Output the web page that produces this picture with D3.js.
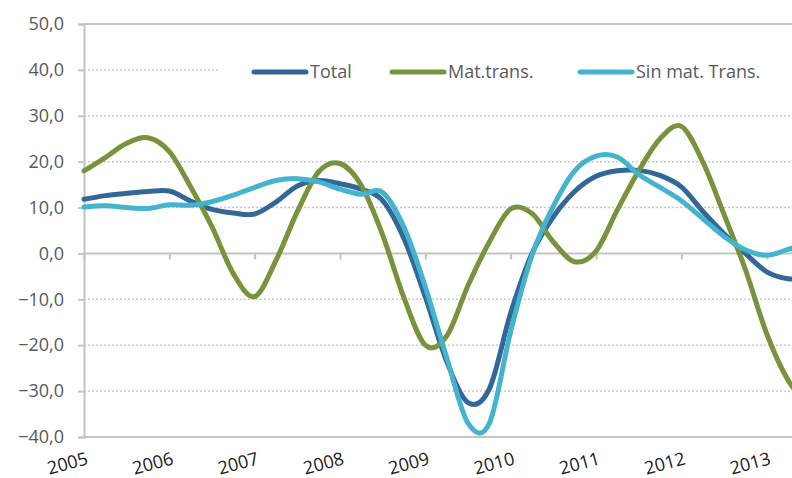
<!DOCTYPE html>
<html>
<head>
<meta charset="utf-8">
<script src="https://cdn.jsdelivr.net/npm/d3@7"></script>
<style>
  body{margin:0;background:#ffffff;}
  svg{display:block;}
</style>
</head>
<body>
<svg id="grafico" width="792" height="478"></svg>
<script>

// datos trimestrales, 2005 T1 en adelante (el último queda fuera del recorte)
var anios=["2005","2006","2007","2008","2009","2010","2011","2012","2013"];
var ticksY=[-40,-30,-20,-10,0,10,20,30,40,50];

var total=[11.8,12.6,13.1,13.5,13.6,11.4,9.6,8.8,8.6,11.2,14.7,15.9,15.2,14.0,11.5,3.2,
           -9.5,-23.5,-32.5,-29.5,-13.0,0.0,8.0,13.5,16.8,18.0,18.1,17.0,14.5,9.2,4.3,0.0,
           -4.0,-5.5,-5.5];
var matTrans=[18.0,20.9,24.0,25.2,22.2,14.5,5.8,-4.4,-9.4,-1.5,9.1,17.8,19.6,14.8,4.0,-9.7,
              -20.0,-18.0,-7.0,2.5,9.7,8.7,2.5,-1.8,0.5,9.5,18.0,25.0,27.7,20.0,8.5,-3.5,
              -17.5,-27.6,-33.0];
var sinMatTrans=[10.1,10.4,10.0,9.8,10.6,10.5,11.3,12.7,14.4,15.9,16.3,15.6,14.0,12.9,13.3,5.7,
                 -7.3,-22.7,-37.0,-37.0,-17.0,-0.4,10.3,18.0,21.2,21.0,17.2,14.4,11.5,7.6,3.7,0.8,
                 -0.4,0.9,2.5];

var series=[
    {nombre:"Total", valores:total, color:"#336699"},
    {nombre:"Mat.trans.", valores:matTrans, color:"#77933C"},
    {nombre:"Sin mat. Trans.", valores:sinMatTrans, color:"#44B4CE"}
];

var svg=d3.select("#grafico");
var fuente="'Open Sans', 'DejaVu Sans', sans-serif";

var izq=84, der=766.7, arriba=24, abajo=437;

var x=d3.scaleLinear().domain([0,32]).range([izq,der]);
var y=d3.scaleLinear().domain([-40,50]).range([abajo,arriba]);

// rejilla punteada
svg.selectAll(".rejilla")
    .data(ticksY.filter(function(d){ return d!=0 && d!=50 && d!=-40; }))
    .enter().append("line")
    .attr("class","rejilla")
    .attr("x1",izq).attr("x2",792)
    .attr("y1",function(d){ return y(d); })
    .attr("y2",function(d){ return y(d); })
    .attr("stroke","#c9c9c9")
    .attr("stroke-width",1.5)
    .attr("stroke-dasharray","2,2");

// borde superior y linea inferior
svg.append("line").attr("x1",izq).attr("x2",792).attr("y1",y(50)).attr("y2",y(50))
    .attr("stroke","#c4c4c4").attr("stroke-width",2);
svg.append("line").attr("x1",izq).attr("x2",792).attr("y1",y(-40)).attr("y2",y(-40))
    .attr("stroke","#c4c4c4").attr("stroke-width",2);

// eje Y
var ejeY=svg.append("g")
    .attr("transform","translate("+izq+",0)")
    .call(d3.axisLeft(y).tickValues(ticksY).tickSize(6).tickPadding(14)
        .tickFormat(function(d){ return d3.format(".1f")(d).replace(".",","); }));
ejeY.select(".domain").attr("stroke","#c4c4c4").attr("stroke-width",2);
ejeY.selectAll(".tick line").attr("stroke","#c4c4c4").attr("stroke-width",2);
ejeY.selectAll("text")
    .style("font-family",fuente)
    .style("font-size","18px")
    .style("fill","#595959");

// eje X en el cero
var ejeX=svg.append("g")
    .attr("transform","translate(0,"+y(0)+")")
    .call(d3.axisBottom(x).tickValues(d3.range(0,33,4)).tickSize(6).tickFormat(""));
ejeX.select(".domain").attr("d","M"+izq+",0H792").attr("stroke","#c4c4c4").attr("stroke-width",2);
ejeX.selectAll(".tick line").attr("stroke","#c4c4c4").attr("stroke-width",2);

// etiquetas de años abajo, giradas
svg.selectAll(".anio")
    .data(anios)
    .enter().append("text")
    .attr("class","anio")
    .attr("transform",function(d,i){ return "translate("+(x(i*4)+5)+",464) rotate(-15)"; })
    .style("text-anchor","end")
    .style("font-family",fuente)
    .style("font-size","18px")
    .style("fill","#1a1a1a")
    .text(function(d){ return d; });

// lineas
var linea=d3.line()
    .x(function(d,i){ return x(i); })
    .y(function(d){ return y(d); })
    .curve(d3.curveCatmullRom.alpha(0));

svg.append("clipPath").attr("id","recorte")
    .append("rect").attr("x",izq-4).attr("y",0).attr("width",792-izq+4).attr("height",478);

svg.append("g").attr("clip-path","url(#recorte)")
    .selectAll(".serie")
    .data(series)
    .enter().append("path")
    .attr("class","serie")
    .attr("d",function(d){ return linea(d.valores); })
    .attr("fill","none")
    .attr("stroke",function(d){ return d.color; })
    .attr("stroke-width",5)
    .attr("stroke-linecap","round")
    .attr("stroke-linejoin","round");

// leyenda con fondo blanco
var leyenda=svg.append("g");
leyenda.append("rect").attr("x",218).attr("y",50).attr("width",574).attr("height",44).attr("fill","#ffffff");

var posLeyenda=[254,392,580];
var item=leyenda.selectAll(".item")
    .data(series)
    .enter().append("g")
    .attr("class","item")
    .attr("transform",function(d,i){ return "translate("+posLeyenda[i]+",72)"; });

item.append("line")
    .attr("x1",0).attr("x2",52)
    .attr("stroke",function(d){ return d.color; })
    .attr("stroke-width",5)
    .attr("stroke-linecap","round");

item.append("text")
    .attr("x",56)
    .attr("dy","0.35em")
    .style("font-family",fuente)
    .style("font-size","18px")
    .style("fill","#595959")
    .text(function(d){ return d.nombre; });

</script>
</body>
</html>
